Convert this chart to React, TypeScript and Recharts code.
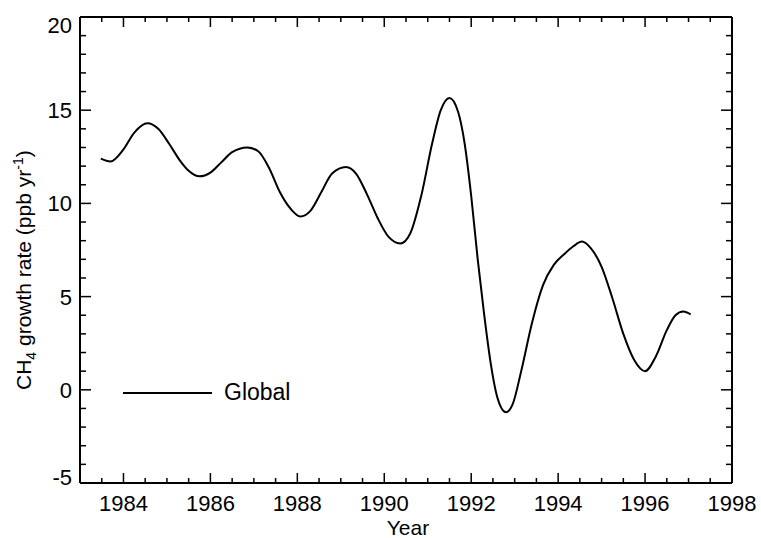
import { LineChart, Line, XAxis, YAxis, Legend } from "recharts";

const FONT = "'Liberation Sans', Arial, Helvetica, sans-serif";

// global CH4 growth rate
const years = [
  1983.48, 1983.7, 1984.0, 1984.25, 1984.55, 1984.8, 1985.05, 1985.3, 1985.5, 1985.75,
  1986.0, 1986.25, 1986.5, 1986.85, 1987.1, 1987.35, 1987.6, 1987.85, 1988.07, 1988.3,
  1988.55, 1988.8, 1989.12, 1989.35, 1989.6, 1989.85, 1990.1, 1990.37, 1990.6, 1990.85,
  1991.1, 1991.3, 1991.5, 1991.7, 1991.85, 1992.0, 1992.15, 1992.3, 1992.45, 1992.6,
  1992.8, 1992.95, 1993.15, 1993.4, 1993.65, 1993.9, 1994.15, 1994.35, 1994.55, 1994.75,
  1995.0, 1995.25, 1995.5, 1995.75, 1996.0, 1996.25, 1996.5, 1996.7, 1996.88, 1997.05,
];
const growth = [
  12.4, 12.25, 12.9, 13.8, 14.3, 14.0, 13.2, 12.3, 11.75, 11.45,
  11.65, 12.2, 12.75, 13.0, 12.8, 11.9, 10.6, 9.7, 9.3, 9.6,
  10.6, 11.6, 11.95, 11.6, 10.5, 9.2, 8.2, 7.85, 8.4, 10.4,
  13.2, 15.0, 15.65, 14.9, 13.2, 10.4, 7.0, 4.0, 1.4, -0.4,
  -1.2, -0.8, 1.0, 3.6, 5.6, 6.7, 7.3, 7.7, 7.95, 7.6,
  6.6, 4.9, 3.0, 1.6, 1.0, 1.8, 3.2, 4.0, 4.2, 4.05,
];

const xTicks = [
  1983.5, 1984, 1984.5, 1985, 1985.5, 1986, 1986.5, 1987, 1987.5, 1988, 1988.5, 1989, 1989.5,
  1990, 1990.5, 1991, 1991.5, 1992, 1992.5, 1993, 1993.5, 1994, 1994.5, 1995, 1995.5,
  1996, 1996.5, 1997, 1997.5, 1998,
];
const xLabels = ["1984", "1986", "1988", "1990", "1992", "1994", "1996", "1998"];
const yTicks = [-5, -4, -3, -2, -1, 0, 1, 2, 3, 4, 5, 6, 7, 8, 9, 10, 11, 12, 13, 14, 15, 16, 17, 18, 19, 20];
const yLabels = ["-5", "0", "5", "10", "15", "20"];

const data = years.map((year, i) => ({ year, growth: growth[i] }));

const isMajorX = (v: number) => xLabels.includes(String(v));
const isMajorY = (v: number) => yLabels.includes(String(v));

function BottomTick(props: any) {
  const { x, y, payload } = props;
  const major = isMajorX(payload.value);
  return (
    <g>
      <line x1={x} y1={y} x2={x} y2={y - (major ? 10 : 5)} stroke="#000" strokeWidth={1.5} />
      {major && (
        <text x={x} y={y + 28} textAnchor="middle" fontSize={22} fontFamily={FONT} fill="#000">
          {payload.value}
        </text>
      )}
    </g>
  );
}

function TopTick(props: any) {
  const { x, y, payload } = props;
  const major = isMajorX(payload.value);
  return <line x1={x} y1={y} x2={x} y2={y + (major ? 10 : 5)} stroke="#000" strokeWidth={1.5} />;
}

function LeftTick(props: any) {
  const { x, y, payload } = props;
  const major = isMajorY(payload.value);
  // the end labels sit a little inside the frame, like the original
  const shift = payload.value === 20 ? 8 : payload.value === -5 ? -6 : 0;
  return (
    <g>
      <line x1={x} y1={y} x2={x + (major ? 11 : 6)} y2={y} stroke="#000" strokeWidth={1.5} />
      {major && (
        <text x={x - 8} y={y + 8 + shift} textAnchor="end" fontSize={22} fontFamily={FONT} fill="#000">
          {payload.value}
        </text>
      )}
    </g>
  );
}

function RightTick(props: any) {
  const { x, y, payload } = props;
  const major = isMajorY(payload.value);
  return <line x1={x} y1={y} x2={x - (major ? 11 : 6)} y2={y} stroke="#000" strokeWidth={1.5} />;
}

function YearLabel(props: any) {
  const vb = props.viewBox || { x: 80, y: 483, width: 652, height: 55 };
  return (
    <text x={vb.x + vb.width / 2 + 2} y={vb.y + 52} textAnchor="middle" fontSize={21} fontFamily={FONT} fill="#000">
      Year
    </text>
  );
}

function GrowthLabel() {
  return (
    <text transform="translate(31, 390) rotate(-90)" textAnchor="start" fontSize={21} fontFamily={FONT} fill="#000">
      CH
      <tspan fontSize={14} dy={5}>4</tspan>
      <tspan dy={-5}> growth rate (ppb yr</tspan>
      <tspan fontSize={14} dy={-8}>-1</tspan>
      <tspan dy={8}>)</tspan>
    </text>
  );
}

function GlobalLegend(props: any) {
  const name = props.payload && props.payload[0] ? props.payload[0].value : "Global";
  return (
    <div style={{ display: "flex", alignItems: "center", fontFamily: FONT, fontSize: 23, color: "#000" }}>
      <svg width={90} height={4}>
        <line x1={0} y1={2} x2={89} y2={2} stroke="#000" strokeWidth={2} />
      </svg>
      <span style={{ marginLeft: 11 }}>{name}</span>
    </div>
  );
}

const axisStroke = { stroke: "#000", strokeWidth: 2 };

export default function App() {
  return (
    <div style={{ position: "absolute", left: 0, top: 0, background: "#fff" }}>
      <LineChart width={761} height={538} data={data} margin={{ top: 0, right: 0, bottom: 0, left: 0 }}>
        <XAxis
          xAxisId="bottom"
          dataKey="year"
          type="number"
          domain={[1983, 1998]}
          allowDataOverflow
          ticks={xTicks}
          interval={0}
          height={55}
          tickSize={0}
          tickMargin={0}
          tickLine={false}
          axisLine={axisStroke}
          tick={<BottomTick />}
          label={<YearLabel />}
        />
        <XAxis
          xAxisId="top"
          orientation="top"
          dataKey="year"
          type="number"
          domain={[1983, 1998]}
          allowDataOverflow
          ticks={xTicks}
          interval={0}
          height={17}
          tickSize={0}
          tickMargin={0}
          tickLine={false}
          axisLine={axisStroke}
          tick={<TopTick />}
        />
        <YAxis
          yAxisId="left"
          type="number"
          domain={[-5, 20]}
          allowDataOverflow
          ticks={yTicks}
          interval={0}
          width={80}
          tickSize={0}
          tickMargin={0}
          tickLine={false}
          axisLine={axisStroke}
          tick={<LeftTick />}
          label={<GrowthLabel />}
        />
        <YAxis
          yAxisId="right"
          orientation="right"
          type="number"
          domain={[-5, 20]}
          allowDataOverflow
          ticks={yTicks}
          interval={0}
          width={29}
          tickSize={0}
          tickMargin={0}
          tickLine={false}
          axisLine={axisStroke}
          tick={<RightTick />}
        />
        <Line
          xAxisId="bottom"
          yAxisId="left"
          dataKey="growth"
          name="Global"
          type="monotone"
          stroke="#000"
          strokeWidth={2}
          dot={false}
          isAnimationActive={false}
        />
        <Legend
          layout="vertical"
          align="center"
          verticalAlign="middle"
          content={<GlobalLegend />}
          wrapperStyle={{ left: 123, top: 379, width: "auto", height: "auto" }}
        />
      </LineChart>
    </div>
  );
}
